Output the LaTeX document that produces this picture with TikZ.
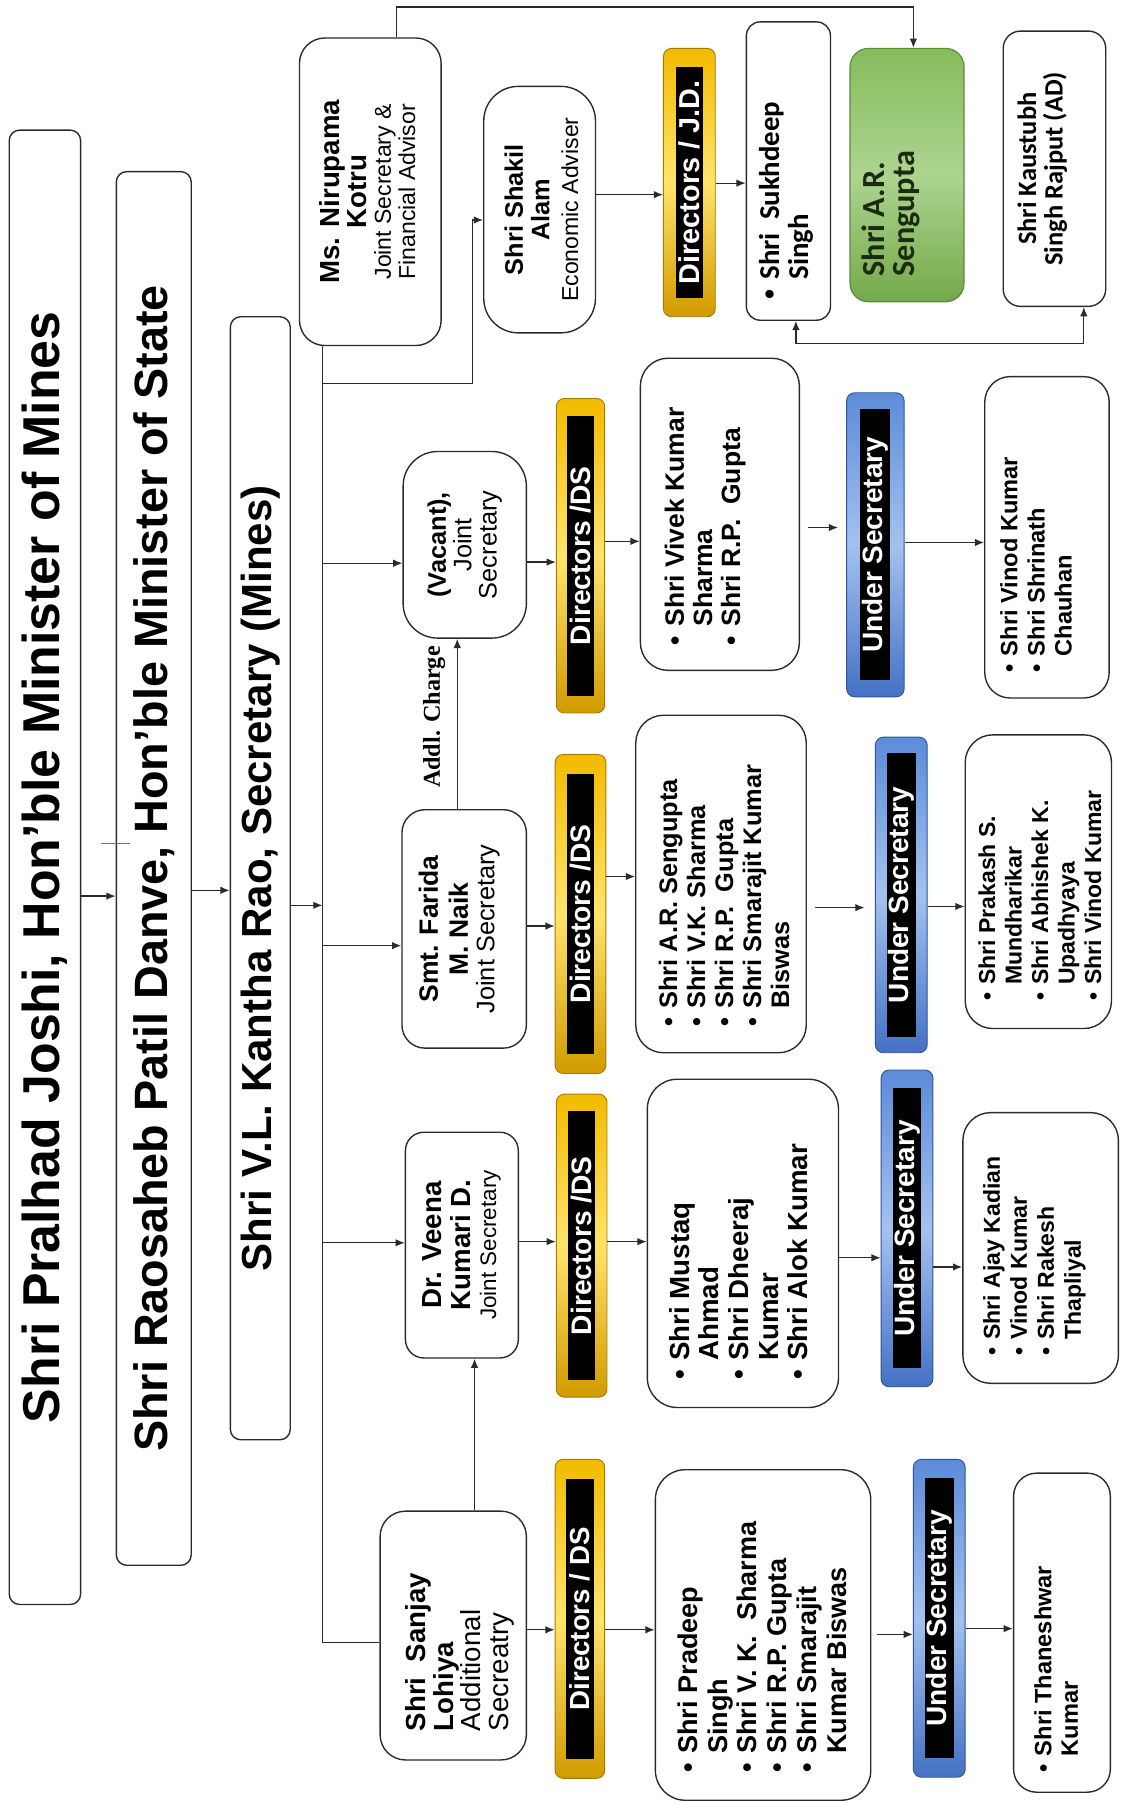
\documentclass[tikz,border=0pt]{standalone}
\usepackage{fontspec}
\setmainfont{Liberation Sans}
\newfontfamily\calfont{Carlito}
\newfontfamily\tmsfont{Liberation Serif}
\newfontfamily\lsfont{Liberation Sans}
\usetikzlibrary{arrows.meta,calc}
\definecolor{linec}{HTML}{2B2B2B}
\definecolor{ytop}{HTML}{F2BB00}
\definecolor{ymid}{HTML}{FFE46B}
\definecolor{ybot}{HTML}{D29A00}
\definecolor{yline}{HTML}{A67C00}
\definecolor{btop}{HTML}{5C8BD8}
\definecolor{bmid}{HTML}{A4C2F0}
\definecolor{bbot}{HTML}{4471C4}
\definecolor{bline}{HTML}{2F5597}
\definecolor{gtop}{HTML}{86BC5C}
\definecolor{gmid}{HTML}{ACD48F}
\definecolor{gbot}{HTML}{74A94A}
\definecolor{gline}{HTML}{5B8C3C}
\definecolor{gtext}{HTML}{1C2A12}
\newcommand\fsz[2]{\fontsize{#1pt}{#2pt}\selectfont}
\newcommand\itm[1]{\par\hangindent=0.7em\hangafter=1\noindent\makebox[0.7em][l]{\lsfont\textbullet}#1}
\newcommand\cell[5]{\parbox[c][#2pt][t]{#1pt}{\vspace*{#4pt}\leftskip=#3pt\rightskip=0pt plus 1fil\parfillskip=0pt plus 1fil\parindent=0pt\hyphenpenalty=10000 #5\par}}
\newcommand\ccell[3]{\parbox[c][#2pt][c]{#1pt}{\centering\hyphenpenalty=10000 #3\par}}
\tikzset{
  bx/.style={draw=linec, line width=1.2pt, fill=white, inner sep=0pt, rotate=90},
  big/.style={bx, rounded corners=9pt, font=\bfseries},
  ybar/.style={rotate=90, draw=yline, line width=0.8pt, rounded corners=7pt, top color=ytop, bottom color=ybot, middle color=ymid, inner sep=0pt},
  bbar/.style={rotate=90, draw=bline, line width=0.8pt, rounded corners=7pt, top color=btop, bottom color=bbot, middle color=bmid, inner sep=0pt},
  blk/.style={rotate=90, fill=black, inner sep=0pt, text=white, font=\bfseries},
  grnbox/.style={rotate=90, draw=gline, line width=1pt, rounded corners=16pt, top color=gtop, bottom color=gbot, middle color=gmid, inner sep=0pt},
  ln/.style={draw=linec, line width=1.1pt},
  arr/.style={ln, -{Latex[length=8pt,width=6.5pt]}},
  darr/.style={ln, {Latex[length=8pt,width=6.5pt]}-{Latex[length=8pt,width=6.5pt]}}
}
\begin{document}
\begin{tikzpicture}[x=1pt,y=-1pt]
\useasboundingbox (0,0) rectangle (994,1568);
\fill[white] (0,0) rectangle (994,1568);
\coordinate (trk) at (280,0);

% top level boxes
\node[big, minimum width=1280pt, minimum height=62pt] (b1) at (39,753) {\fsz{45}{50}Shri Pralhad Joshi, Hon’ble Minister of Mines};
\node[big, minimum width=1210pt, minimum height=65pt] (b2) at (133.5,754) {\fsz{40.6}{45}Shri Raosaheb Patil Danve, Hon’ble Minister of State};
\node[big, minimum width=975pt, minimum height=52pt] (b3) at (226,762.5) {\fsz{36.5}{40}Shri V.L. Kantha Rao, Secretary (Mines)};
\draw[line width=0.8pt, black!55] (88,732) -- (113,732);

% top row
\node[bx, rounded corners=22pt] (nir) at (321.5,166.5) {\cell{267}{123}{0}{17}{\centering{\bfseries\fsz{24}{24}Ms. Nirupama\\Kotru\par}\fsz{20}{21}Joint Secretary \&\\Financial Advisor}};
\node[bx, rounded corners=30pt] (sha) at (468.5,182) {\cell{214}{97}{0}{18}{\centering{\bfseries\fsz{22}{23}Shri Shakil\\Alam\par}\fsz{20}{25}Economic Adviser}};
\node[ybar, minimum width=233pt, minimum height=45pt] (djd) at (598.5,158.5) {};
\node[blk, minimum width=201pt, minimum height=24pt] (djdt) at (djd.center) {\fsz{25}{25}Directors / J.D.};
\node[bx, rounded corners=12pt] (suk) at (684.5,148.5) {\cell{259}{73}{18}{11}{\calfont\bfseries\fsz{25}{25}\itm{Shri\ \ Sukhdeep\newline Singh}}};
\node[grnbox] (grn) at (787.5,152) {\cell{220}{99}{22}{10}{\calfont\bfseries\fsz{28}{26}\color{gtext}Shri A.R.\\Sengupta}};
\node[bx, rounded corners=15pt] (kau) at (915.5,146.5) {\cell{239}{89}{0}{12.5}{\centering\calfont\bfseries\fsz{23}{23}Shri Kaustubh\\Singh Rajput (AD)}};

% vacant row
\node[bx, rounded corners=30pt] (vac) at (403.5,473) {\ccell{162}{107}{{\bfseries\fsz{22}{22}(Vacant),\par}\fsz{22}{22}Joint\\Secretary}};
\node[ybar, minimum width=273pt, minimum height=42pt] (d1) at (504,482.5) {};
\node[blk, minimum width=243pt, minimum height=24pt] (d1t) at (d1.center) {\fsz{24.5}{25}Directors /DS};
\node[bx, rounded corners=24pt] (viv) at (625,446.5) {\cell{271}{138}{22}{21}{\bfseries\fsz{23}{24.5}\itm{Shri Vivek Kumar\newline Sharma}\itm{Shri R.P.\ \ Gupta}}};
\node[bbar, minimum width=264pt, minimum height=50pt] (u1) at (760,473) {};
\node[blk, minimum width=235pt, minimum height=26pt] (u1t) at (u1.center) {\fsz{24.3}{25}Under Secretary};
\node[bx, rounded corners=22pt] (vin) at (909,466.5) {\cell{279}{108}{22}{13.5}{\bfseries\fsz{20.5}{23.5}\itm{Shri Vinod Kumar}\itm{Shri Shrinath\newline Chauhan}}};

% farida row
\node[bx, rounded corners=20pt] (far) at (403,806.5) {\cell{207}{108}{0}{14.5}{\centering{\bfseries\fsz{23}{26}Smt. Farida\\M. Naik\par}\fsz{22}{23}Joint Secretary}};
\node[ybar, minimum width=277pt, minimum height=44pt] (d2) at (504,793.5) {};
\node[blk, minimum width=243pt, minimum height=24pt] (d2t) at (d2.center) {\fsz{24.5}{25}Directors /DS};
\node[bx, rounded corners=24pt] (sen) at (626,767.5) {\cell{293}{148}{23}{20}{\bfseries\fsz{22}{24.3}\itm{Shri A.R. Sengupta}\itm{Shri V.K. Sharma}\itm{Shri R.P.\ \ Gupta}\itm{Shri Smarajit Kumar\newline Biswas}}};
\node[bbar, minimum width=274pt, minimum height=45pt] (u2) at (782.5,777) {};
\node[blk, minimum width=246pt, minimum height=25pt] (u2t) at (u2.center) {\fsz{24.3}{25}Under Secretary};
\node[bx, rounded corners=24pt] (pra) at (901.5,765.5) {\cell{255}{127}{24}{11.5}{\bfseries\fsz{20}{23}\itm{Shri Prakash S.\newline Mundharikar}\itm{Shri Abhishek K.\newline Upadhyaya}\itm{Shri Vinod Kumar}}};

% veena row
\node[bx, rounded corners=16pt] (vee) at (401,1081) {\ccell{196}{98}{{\bfseries\fsz{24}{25}Dr. Veena\\Kumari D.\par}\fsz{19.5}{22}Joint Secretary}};
\node[ybar, minimum width=263pt, minimum height=44pt] (d3) at (505,1081.5) {};
\node[blk, minimum width=233pt, minimum height=24pt] (d3t) at (d3.center) {\fsz{24.5}{25}Directors /DS};
\node[bx, rounded corners=26pt] (mus) at (645,1079.5) {\cell{285}{166}{24}{19}{\bfseries\fsz{24}{25.7}\itm{Shri Mustaq\newline Ahmad}\itm{Shri Dheeraj\newline Kumar}\itm{Shri Alok Kumar}}};
\node[bbar, minimum width=275pt, minimum height=45pt] (u3) at (787.5,1066.5) {};
\node[blk, minimum width=243pt, minimum height=25pt] (u3t) at (u3.center) {\fsz{24.3}{25}Under Secretary};
\node[bx, rounded corners=24pt] (aja) at (903.5,1083.5) {\cell{235}{135}{24}{17.5}{\bfseries\fsz{20}{23.5}\itm{Shri Ajay Kadian}\itm{Vinod Kumar}\itm{Shri Rakesh\newline Thapliyal}}};

% sanjay row
\node[bx, rounded corners=22pt] (san) at (393.5,1420) {\cell{216}{127}{25}{22}{\fsz{24}{24}{\bfseries Shri\ \ Sanjay\\Lohiya\par}Additional\\Secreatry}};
\node[ybar, minimum width=277pt, minimum height=43pt] (d4) at (503.5,1405.5) {};
\node[blk, minimum width=243pt, minimum height=24pt] (d4t) at (d4.center) {\fsz{24}{25}Directors / DS};
\node[bx, rounded corners=26pt] (pdp) at (662.5,1419.5) {\cell{287}{187}{24}{19.5}{\bfseries\fsz{23.5}{25.8}\itm{Shri Pradeep\newline Singh}\itm{Shri V. K.\ \ Sharma}\itm{Shri R.P. Gupta}\itm{Shri Smarajit\newline Kumar Biswas}}};
\node[bbar, minimum width=276pt, minimum height=45pt] (u4) at (815.5,1405) {};
\node[blk, minimum width=243pt, minimum height=25pt] (u4t) at (u4.center) {\fsz{24.3}{25}Under Secretary};
\node[bx, rounded corners=20pt] (tha) at (922,1417.5) {\cell{277}{84}{17}{18}{\bfseries\fsz{20.5}{23}\itm{Shri Thaneshwar\newline Kumar}}};

% connectors: hierarchy
\draw[arr] (b1.south |- 0,778) -- (b2.north |- 0,778);
\draw[arr] (b2.south |- 0,773) -- (b3.north |- 0,773);
\draw[arr] (b3.south |- 0,786) -- (trk |- 0,786);
\draw[ln] (trk |- nir.west) -- (trk |- 0,1426) -- (san.north |- 0,1426);
\draw[arr] (trk |- 0,333) -- (410,333) -- (410,191) -- (sha.north |- 0,191);
\draw[arr] (344,0 |- nir.east) -- (344,6) -- (793,6) -- (793,0 |- grn.east);
\draw[arr] (trk |- 0,489) -- (vac.north |- 0,489);
\draw[arr] (trk |- 0,821) -- (far.north |- 0,821);
\draw[arr] (trk |- 0,1079) -- (vee.north |- 0,1079);

% top row
\draw[arr] (sha.south |- 0,169) -- (djd.north |- 0,169);
\draw[arr] (djd.south |- 0,159) -- (suk.north |- 0,159);
\draw[darr] (691,0 |- suk.west) -- (691,298) -- (941,298) -- (941,0 |- kau.west);

% vacant row
\draw[arr] (vac.south |- 0,488) -- (d1.north |- 0,488);
\draw[arr] (d1.south |- 0,470) -- (viv.north |- 0,470);
\draw[arr, shorten <=7pt, shorten >=7pt] (viv.south |- 0,458) -- (u1.north |- 0,458);
\draw[arr] (u1.south |- 0,471) -- (vin.north |- 0,471);

% farida row
\draw[arr] (397,0 |- far.east) -- node[rotate=90, pos=0.54, yshift=20pt, font={\tmsfont\bfseries\fsz{21}{22}}] (addl) {Addl. Charge} (397,0 |- vac.west);
\draw[arr] (far.south |- 0,804) -- (d2.north |- 0,804);
\draw[arr] (d2.south |- 0,761) -- (sen.north |- 0,761);
\draw[arr, shorten <=7pt, shorten >=9pt] (sen.south |- 0,788) -- (u2.north |- 0,788);
\draw[arr] (u2.south |- 0,787) -- (pra.north |- 0,787);

% veena row
\draw[arr] (vee.south |- 0,1078) -- (d3.north |- 0,1078);
\draw[arr] (d3.south |- 0,1078) -- (mus.north |- 0,1078);
\draw[arr] (mus.south |- 0,1092) -- (u3.north |- 0,1092);
\draw[arr] (u3.south |- 0,1100) -- (aja.north |- 0,1100);
\draw[arr] (412,0 |- san.east) -- (412,0 |- vee.west);

% sanjay row
\draw[arr] (san.south |- 0,1415) -- (d4.north |- 0,1415);
\draw[arr] (d4.south |- 0,1415) -- (pdp.north |- 0,1415);
\draw[arr, shorten <=5pt] (pdp.south |- 0,1419) -- (u4.north |- 0,1419);
\draw[arr] (u4.south |- 0,1414) -- (tha.north |- 0,1414);
\end{tikzpicture}
\end{document}
